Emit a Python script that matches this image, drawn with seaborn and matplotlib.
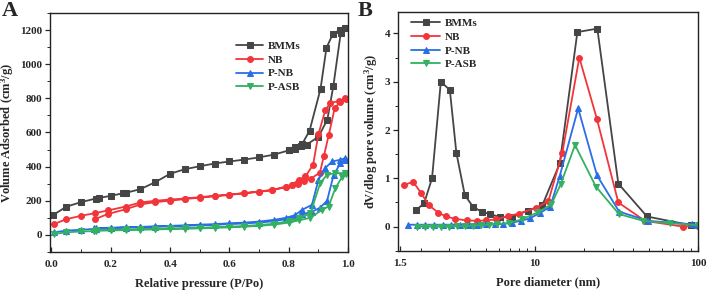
import numpy as np
import pandas as pd
import matplotlib
matplotlib.use("Agg")
import matplotlib.pyplot as plt
import seaborn as sns
from matplotlib.ticker import MultipleLocator, FixedLocator, LogLocator, NullFormatter

# ---------------- Panel A data (N2 isotherms: adsorption then desorption) ----------------
series_names = ["BMMs", "NB", "P-NB", "P-ASB"]

bmms_p = [0.006, 0.05, 0.10, 0.15, 0.16, 0.20, 0.24, 0.25, 0.30, 0.35, 0.40, 0.45, 0.50, 0.55,
          0.60, 0.65, 0.70, 0.75, 0.80, 0.82, 0.84, 0.86, 0.90, 0.93, 0.95, 0.975, 0.99,
          0.997, 0.972, 0.949, 0.927, 0.907, 0.870, 0.845, 0.822, 0.80]
bmms_v = [117, 165, 192, 213, 216, 229, 243, 246, 268, 309, 358, 385, 402, 418,
          430, 441, 454, 470, 495, 505, 520, 528, 575, 675, 870, 1180, 1210,
          1211, 1200, 1178, 1096, 855, 610, 532, 513, 499]

nb_p = [0.008, 0.05, 0.10, 0.146, 0.19, 0.25, 0.30, 0.35, 0.40, 0.45, 0.50, 0.55, 0.60, 0.65,
        0.70, 0.745, 0.79, 0.81, 0.83, 0.85, 0.875, 0.905, 0.918, 0.935, 0.955, 0.974, 0.993,
        0.99, 0.968, 0.94, 0.923, 0.90, 0.882, 0.856, 0.833, 0.81, 0.79, 0.745, 0.70, 0.65,
        0.60, 0.55, 0.50, 0.45, 0.40, 0.35, 0.30, 0.25, 0.19, 0.146]
nb_v = [63, 92, 112, 127, 143, 166, 190, 200, 207, 213, 221, 229, 236, 245,
        254, 264, 282, 290, 300, 318, 330, 365, 460, 587, 744, 779, 797,
        799, 783, 773, 730, 590, 411, 342, 323, 292, 280, 262, 252, 244,
        234, 226, 218, 210, 200, 192, 178, 150, 122, 92]

pnb_p = [0.008, 0.05, 0.10, 0.145, 0.15, 0.20, 0.25, 0.30, 0.35, 0.40, 0.45, 0.50, 0.55, 0.60,
         0.65, 0.70, 0.75, 0.80, 0.82, 0.845, 0.878, 0.906, 0.929, 0.951, 0.974, 0.993,
         0.991, 0.974, 0.946, 0.923, 0.90, 0.878, 0.845, 0.82, 0.79, 0.75, 0.70, 0.65, 0.60,
         0.55, 0.50, 0.45, 0.40, 0.35, 0.30, 0.25, 0.20, 0.15, 0.145]
pnb_v = [15, 25, 30, 35, 37, 40, 43, 45, 48, 50, 53, 56, 59, 63,
         67, 72, 80, 95, 105, 120, 135, 160, 200, 350, 420, 440,
         450, 440, 430, 392, 323, 176, 147, 115, 100, 88, 78, 72, 68,
         63, 60, 56, 53, 50, 47, 45, 42, 40, 38]

pasb_p = [0.008, 0.05, 0.10, 0.145, 0.15, 0.20, 0.25, 0.30, 0.35, 0.40, 0.45, 0.50, 0.55, 0.60,
          0.65, 0.70, 0.75, 0.80, 0.833, 0.873, 0.912, 0.934, 0.957, 0.98, 0.993,
          0.99, 0.957, 0.929, 0.906, 0.873, 0.833, 0.80, 0.75, 0.70, 0.65, 0.60, 0.55, 0.50,
          0.45, 0.40, 0.35, 0.30, 0.25, 0.20, 0.15, 0.145]
pasb_v = [5, 15, 20, 22, 24, 26, 28, 30, 32, 34, 36, 38, 41, 44,
          48, 53, 60, 72, 85, 100, 147, 166, 274, 340, 358,
          362, 362, 352, 304, 127, 98, 80, 65, 58, 52, 48, 45, 42,
          40, 38, 36, 34, 32, 30, 27, 25]

# ---------------- Panel B data (pore size distribution) ----------------
bmms_d = [1.886, 2.10, 2.35, 2.66, 3.02, 3.31, 3.73, 4.19, 4.72, 5.30, 6.11, 7.20, 9.02, 11.1,
          14.2, 18.2, 24.1, 32.4, 48.5, 90]
bmms_dv = [0.35, 0.48, 1.0, 3.0, 2.83, 1.53, 0.65, 0.41, 0.31, 0.26, 0.20, 0.20, 0.33, 0.44,
           1.31, 4.03, 4.10, 0.89, 0.21, 0.03]

nb_d = [1.585, 1.80, 2.02, 2.24, 2.56, 2.87, 3.27, 3.82, 4.40, 5.06, 5.82, 6.87, 8.0, 10.2,
        12.1, 14.7, 18.7, 24.0, 32.4, 47.1, 80.9, 100]
nb_dv = [0.86, 0.93, 0.69, 0.45, 0.29, 0.21, 0.16, 0.13, 0.12, 0.13, 0.15, 0.22, 0.27, 0.39,
         0.53, 1.52, 3.50, 2.22, 0.50, 0.12, 0.0, 0.02]

pnb_d = [1.68, 1.90, 2.14, 2.42, 2.73, 3.09, 3.49, 3.94, 4.45, 5.03, 5.68, 6.42, 7.25, 8.19,
         9.3, 10.7, 12.4, 14.2, 18.4, 24.0, 32.8, 49.4, 91, 100]
pnb_dv = [0.04, 0.04, 0.04, 0.04, 0.04, 0.04, 0.04, 0.04, 0.04, 0.05, 0.05, 0.06, 0.08, 0.12,
          0.17, 0.28, 0.41, 1.05, 2.45, 1.06, 0.31, 0.12, 0.05, 0.03]

pasb_d = [1.89, 2.12, 2.37, 2.65, 2.97, 3.33, 3.72, 4.17, 4.67, 5.23, 5.85, 6.9, 8.3, 10.5,
          12.6, 14.4, 17.6, 23.6, 32.7, 46.1, 67.1, 100]
pasb_dv = [0.0, 0.0, 0.0, 0.0, 0.0, 0.01, 0.01, 0.02, 0.03, 0.04, 0.05, 0.07, 0.15, 0.30,
           0.46, 0.88, 1.69, 0.83, 0.26, 0.12, 0.07, 0.03]

colors = ["#454545", "#f2353a", "#2a6ee6", "#33b062"]
markers = ["s", "o", "^", "v"]

iso = [(bmms_p, bmms_v), (nb_p, nb_v), (pnb_p, pnb_v), (pasb_p, pasb_v)]
psd = [(bmms_d, bmms_dv), (nb_d, nb_dv), (pnb_d, pnb_dv), (pasb_d, pasb_dv)]

sns.set_theme(style="ticks")
plt.rcParams["font.family"] = ["Liberation Serif", "DejaVu Serif"]
plt.rcParams["font.weight"] = "bold"
plt.rcParams["axes.labelweight"] = "bold"
plt.rcParams["mathtext.fontset"] = "custom"
plt.rcParams["mathtext.rm"] = "Liberation Serif:bold"
plt.rcParams["mathtext.it"] = "Liberation Serif:bold"
plt.rcParams["mathtext.bf"] = "Liberation Serif:bold"

fig = plt.figure(figsize=(7.09, 2.94), dpi=100)
axA = fig.add_axes([0.0705, 0.143, 0.4205, 0.813])
axB = fig.add_axes([0.561, 0.147, 0.424, 0.813])

lw = 1.3
ms = 4.2

for name, (x, y), c, m in zip(series_names, iso, colors, markers):
    df = pd.DataFrame({"x": x, "y": y})
    sns.lineplot(data=df, x="x", y="y", sort=False, estimator=None, ax=axA,
                 color=c, marker=m, markersize=ms, markeredgecolor=c, linewidth=lw, label=name)

for name, (x, y), c, m in zip(series_names, psd, colors, markers):
    df = pd.DataFrame({"x": x, "y": y})
    sns.lineplot(data=df, x="x", y="y", sort=False, estimator=None, ax=axB,
                 color=c, marker=m, markersize=ms, markeredgecolor=c, linewidth=lw, label=name)

# ---- axis A formatting ----
axA.set_xlim(-0.005, 1.0)
axA.set_ylim(-100, 1300)
axA.xaxis.set_major_locator(MultipleLocator(0.2))
axA.xaxis.set_minor_locator(MultipleLocator(0.1))
axA.yaxis.set_major_locator(FixedLocator([0, 200, 400, 600, 800, 1000, 1200]))
axA.yaxis.set_minor_locator(FixedLocator([-100, 100, 300, 500, 700, 900, 1100, 1300]))
axA.set_xticklabels([f"{v:.1f}" for v in axA.get_xticks()])
axA.set_xlabel("Relative pressure (P/Po)", fontsize=9, fontweight="bold", labelpad=6)
axA.set_ylabel("Volume Adsorbed (cm$^3$/g)", fontsize=9, fontweight="bold", labelpad=3)

# ---- axis B formatting ----
axB.set_xscale("log")
axB.set_xlim(1.45, 100)
axB.set_ylim(-0.5, 4.45)
axB.xaxis.set_major_locator(FixedLocator([1.5, 10, 100]))
axB.set_xticklabels(["1.5", "10", "100"])
axB.xaxis.set_minor_locator(LogLocator(base=10, subs=np.arange(2, 10), numticks=20))
axB.xaxis.set_minor_formatter(NullFormatter())
axB.yaxis.set_major_locator(MultipleLocator(1))
axB.yaxis.set_minor_locator(MultipleLocator(0.5))
axB.set_xlabel("Pore diameter (nm)", fontsize=9, fontweight="bold", labelpad=6)
axB.set_ylabel("dV/dlog pore volume (cm$^3$/g)", fontsize=9, fontweight="bold", labelpad=3)

for ax in (axA, axB):
    for s in ax.spines.values():
        s.set_linewidth(1.0)
        s.set_color("#222222")
    ax.tick_params(axis="x", which="major", direction="in", length=3.5, width=0.9,
                   labelsize=8, pad=6, top=False)
    ax.tick_params(axis="x", which="minor", direction="in", length=2, width=0.7, top=False)
    ax.tick_params(axis="y", which="major", direction="out", length=3.5, width=0.9,
                   labelsize=8, pad=2, right=False)
    ax.tick_params(axis="y", which="minor", direction="out", length=2, width=0.7, right=False)
    for lab in ax.get_xticklabels() + ax.get_yticklabels():
        lab.set_fontweight("bold")

legA = axA.legend(loc="upper left", bbox_to_anchor=(0.61, 0.9), frameon=False,
                  fontsize=8, handlelength=2.4, handletextpad=0.4, labelspacing=0.35,
                  borderaxespad=0)
legB = axB.legend(loc="upper left", bbox_to_anchor=(0.03, 0.99), frameon=False,
                  fontsize=8, handlelength=2.6, handletextpad=0.4, labelspacing=0.35,
                  borderaxespad=0)
for leg in (legA, legB):
    for t in leg.get_texts():
        t.set_fontweight("bold")

fig.text(0.002, 0.998, "A", fontsize=16, fontweight="bold", va="top", ha="left")
fig.text(0.505, 0.998, "B", fontsize=16, fontweight="bold", va="top", ha="left")

fig.savefig("out.png", dpi=100)
